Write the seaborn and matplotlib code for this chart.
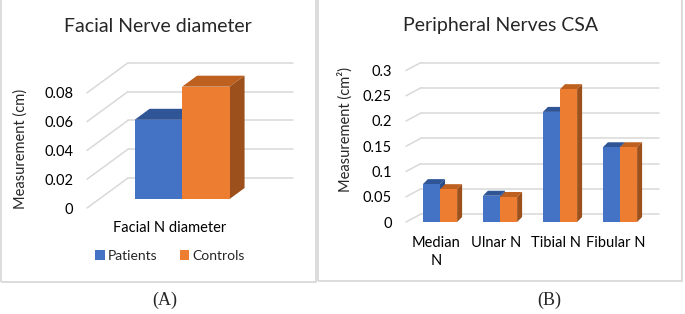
import pandas as pd
import seaborn as sns
import matplotlib.pyplot as plt
from matplotlib.patches import Polygon, Rectangle
from matplotlib.lines import Line2D
from matplotlib.transforms import ScaledTranslation

# data
groups = ['Patients', 'Controls']

facial_cats = ['Facial N diameter']
facial_patients = [0.055]
facial_controls = [0.078]
facial_ticks = [0, 0.02, 0.04, 0.06, 0.08]

csa_cats = ['Median\nN', 'Ulnar N', 'Tibial N', 'Fibular N']
csa_patients = [0.075, 0.052, 0.218, 0.148]
csa_controls = [0.065, 0.0495, 0.263, 0.148]
csa_ticks = [0, 0.05, 0.1, 0.15, 0.2, 0.25, 0.3]

front_col = {'Patients': '#4472C4', 'Controls': '#ED7D31'}
top_col = {'Patients': '#2F5597', 'Controls': '#BE601F'}
side_col = {'Patients': '#2A4E8C', 'Controls': '#9C501C'}
grid_col = '#D9D9D9'

W, H = 685, 314
sns.set_style('white')
plt.rcParams['font.family'] = ['Lato', 'DejaVu Sans']

fig = plt.figure(figsize=(W / 100, H / 100), dpi=100)


def px_off(dx, dy):
    return ScaledTranslation(dx / 100, dy / 100, fig.dpi_scale_trans)


def draw_panel(ax, cats, patients, controls, ticks, width, front, back, depth, xpad, xshift):
    df = pd.DataFrame({'nerve': cats * 2,
                       'group': ['Patients'] * len(cats) + ['Controls'] * len(cats),
                       'value': patients + controls})
    sns.barplot(data=df, x='nerve', y='value', hue='group', order=cats, hue_order=groups,
                palette=front_col, saturation=1, width=width, edgecolor='none',
                legend=False, ax=ax, zorder=2)
    ax.set_xlim(*ax.xlim_)
    ax.set_ylim(0, ax.ytop_)

    bb = ax.get_position()
    sx = (ax.xlim_[1] - ax.xlim_[0]) / (bb.width * W)
    sy = ax.ytop_ / (bb.height * H)
    x0, x1 = ax.xlim_

    # back wall grid and floor diagonals
    for t in ticks:
        ax.add_line(Line2D([x0 + back[0] * sx, x1 + back[0] * sx],
                           [t + back[1] * sy, t + back[1] * sy],
                           color=grid_col, lw=1.1, zorder=0.5, clip_on=False))
        ax.add_line(Line2D([x0 + front[0] * sx, x0 + back[0] * sx],
                           [t + front[1] * sy, t + back[1] * sy],
                           color=grid_col, lw=1.1, zorder=0.5, clip_on=False))

    # 3d top and side of every bar
    ddx, ddy = depth[0] * sx, depth[1] * sy
    for g, cont in zip(groups, ax.containers):
        for p in cont:
            bx0 = p.get_x()
            bx1 = bx0 + p.get_width()
            h = p.get_height()
            ax.add_patch(Polygon([(bx0, h), (bx0 + ddx, h + ddy), (bx1 + ddx, h + ddy), (bx1, h)],
                                 closed=True, facecolor=top_col[g], edgecolor='none',
                                 zorder=1.5, clip_on=False))
            ax.add_patch(Polygon([(bx1, h), (bx1 + ddx, h + ddy), (bx1 + ddx, ddy), (bx1, 0)],
                                 closed=True, facecolor=side_col[g], edgecolor='none',
                                 zorder=1.5, clip_on=False))

    ax.set_yticks(ticks)
    ax.set_yticklabels([f'{t:g}' for t in ticks])
    ax.tick_params(axis='y', length=0, pad=10, labelsize=10.5, labelcolor='black')
    ax.tick_params(axis='x', length=0, pad=xpad, labelsize=10.5, labelcolor='black')
    for lab in ax.get_yticklabels():
        lab.set_transform(lab.get_transform() + px_off(front[0], front[1]))
    for lab in ax.get_xticklabels():
        lab.set_transform(lab.get_transform() + px_off(front[0] + xshift, front[1]))
        lab.set_linespacing(1.35)
    ax.set_xlabel('')
    ax.set_ylabel('')
    sns.despine(ax=ax, left=True, bottom=True)
    ax.set_facecolor('none')


# left panel: facial nerve
axA = fig.add_axes([99 / W, 1 - 199 / H, 165 / W, 129.6 / H])
axA.xlim_ = (-0.7, 0.69)
axA.ytop_ = 0.09
draw_panel(axA, facial_cats, facial_patients, facial_controls, facial_ticks, 0.8,
           front=(-12, -9), back=(29, 21), depth=(15, 11), xpad=9, xshift=0)

# right panel: peripheral nerves
axB = fig.add_axes([406 / W, 1 - 222 / H, 238 / W, 151.5 / H])
axB.xlim_ = (-0.567, 3.4)
axB.ytop_ = 0.3
draw_panel(axB, csa_cats, csa_patients, csa_controls, csa_ticks, 0.57,
           front=(0, 0), back=(15, 8), depth=(5, 5), xpad=10, xshift=-4)

# titles and axis labels
fig.text(158 / W, 1 - 27 / H, 'Facial Nerve diameter', ha='center', va='center', fontsize=14)
fig.text(501 / W, 1 - 26 / H, 'Peripheral Nerves CSA', ha='center', va='center', fontsize=14)
fig.text(21 / W, 1 - 149 / H, 'Measurement (cm)', rotation=90, ha='center', va='center', fontsize=10.5)
fig.text(345 / W, 1 - 130 / H, 'Measurement (cm²)', rotation=90, ha='center', va='center', fontsize=10.5)

handles = [Rectangle((0, 0), 1, 1, facecolor=front_col[g], edgecolor='none') for g in groups]
fig.legend(handles, groups, loc='center', bbox_to_anchor=(170 / W, 1 - 256 / H), ncol=2,
           frameon=False, handlelength=0.7, handleheight=0.7, handletextpad=0.2,
           columnspacing=1.6, fontsize=10)

# panel frames
fig.add_artist(Rectangle((0.5 / W, 1 - 282 / H), 315.5 / W, 283 / H, transform=fig.transFigure,
                         fill=False, edgecolor=grid_col, lw=1.3))
fig.add_artist(Rectangle((318 / W, 1 - 281 / H), 364 / W, 282 / H, transform=fig.transFigure,
                         fill=False, edgecolor=grid_col, lw=1.3))

fig.text(165 / W, 1 - 300 / H, '(A)', ha='center', va='center', fontsize=13, family='Liberation Serif')
fig.text(549 / W, 1 - 300 / H, '(B)', ha='center', va='center', fontsize=13, family='Liberation Serif')

fig.savefig('out.png', dpi=100)
